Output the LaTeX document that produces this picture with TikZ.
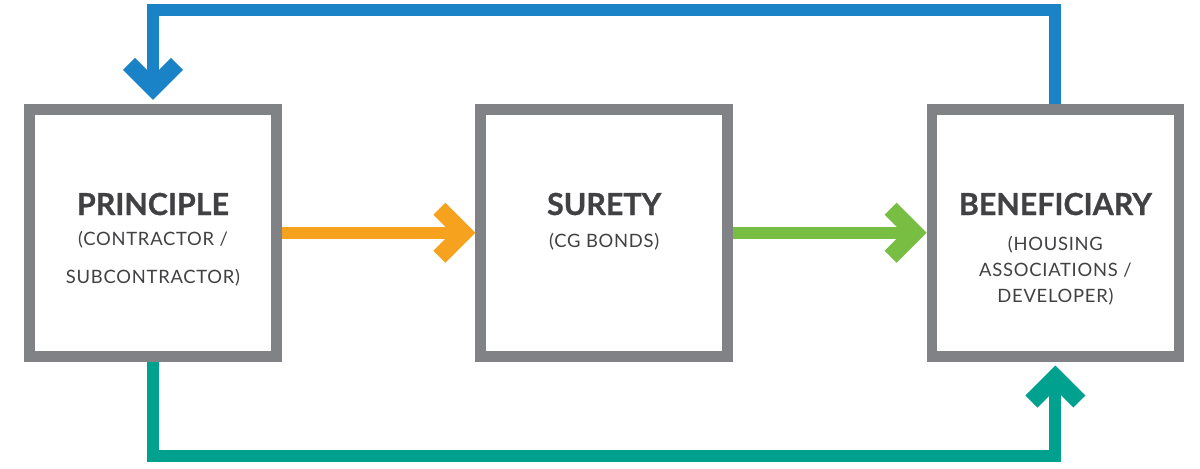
\documentclass[tikz,border=0pt]{standalone}
\usepackage{fontspec}
\setmainfont{Lato}
\newfontfamily\rolefont[LetterSpace=4]{Lato}
\newfontfamily\titlefont[BoldFeatures={FakeBold=0.8}]{Lato}
\usetikzlibrary{arrows.meta,positioning}
\definecolor{box edge}{HTML}{818286}
\definecolor{box text}{HTML}{414042}
\definecolor{claim blue}{HTML}{1A82C7}
\definecolor{payout teal}{HTML}{00A18F}
\definecolor{bond orange}{HTML}{F7A21E}
\definecolor{cover green}{HTML}{78BE43}
\tikzset{party/.style={draw=box edge, line width=5.3pt, minimum size=123.5pt, inner sep=0pt},
      partytitle/.style={font=\titlefont\fontsize{15.2}{18}\selectfont\bfseries, text=box text, anchor=base},
      role/.style={font=\rolefont\fontsize{9.2}{13}\selectfont, text=box text, align=center, anchor=base},
      flow/.style={line width=6pt, -{Straight Barb[length=12pt,width=24pt,line width=8.5pt]}}}

\begin{document}
\begin{tikzpicture}[x=0.5pt,y=-0.5pt,node distance=96.8pt]
    \useasboundingbox (0,0) rectangle (1200,468);
    \node[party] (principle) at (153,232.75) {};
    \node[party, right=of principle] (surety) {};
    \node[party, right=of surety] (beneficiary) {};
    % base of a role node is its last line
    \node[partytitle] (principle title) at (principle |- 0,215) {PRINCIPLE};
    \node[role] (principle role) at (principle |- 0,283) {(CONTRACTOR /\\[6pt]SUBCONTRACTOR)};
    \node[partytitle] (surety title) at (surety |- 0,215) {SURETY};
    \node[role] (surety role) at (surety |- 0,247) {(CG BONDS)};
    \node[partytitle] (beneficiary title) at (beneficiary |- 0,215) {BENEFICIARY};
    \node[role] (beneficiary role) at (beneficiary |- 0,302) {(HOUSING\\ASSOCIATIONS /\\DEVELOPER)};
    \coordinate (claim top) at (604,10);
    \coordinate (payout bottom) at (604,456);
    \draw[flow, bond orange] (principle) -- (surety);
    \draw[flow, cover green] (surety) -- (beneficiary);
    \draw[flow, claim blue, shorten >=2pt] (beneficiary.north) |- (claim top) -| (principle.north);
    \draw[flow, payout teal, shorten >=2pt] (principle.south) |- (payout bottom) -| (beneficiary.south);
\end{tikzpicture}
\end{document}
